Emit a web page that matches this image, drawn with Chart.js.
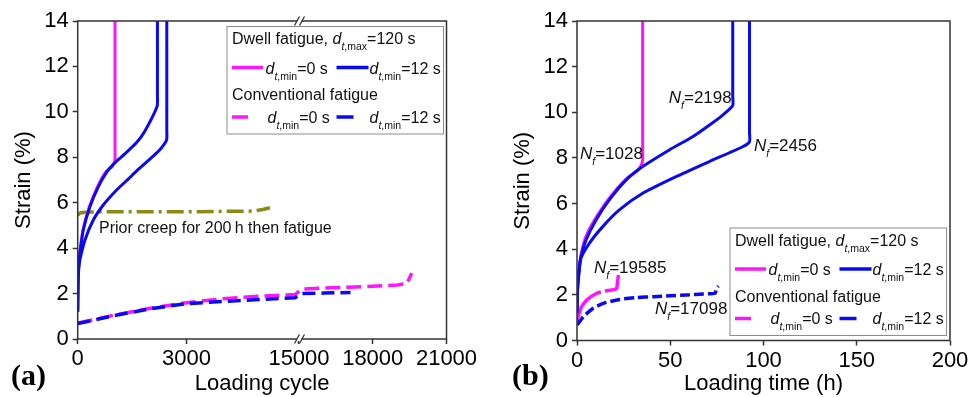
<!DOCTYPE html>
<html><head><meta charset="utf-8">
<script src="https://cdn.jsdelivr.net/npm/chart.js@4/dist/chart.umd.min.js"></script>
<style>
html,body{margin:0;padding:0;background:#fff;}
#wrap{position:relative;width:968px;height:397px;overflow:hidden;background:#fff;}
.c{position:absolute;top:0;height:397px;width:484px;}
#ca{left:0;} #cb{left:484px;}
</style></head><body>
<div id="wrap"><div class="c" id="ca"><canvas id="a"></canvas></div><div class="c" id="cb"><canvas id="b"></canvas></div></div>
<script>
// ---------------- DATA ----------------
// (a) strain vs loading cycle (broken x axis 0-6100 | 15000-21000)
const xTicksA = [0, 3000, 15000, 18000, 21000];
const yTicks = [0, 2, 4, 6, 8, 10, 12, 14];

const aDwell12aCycle = [0, 10, 30, 63, 154, 339, 567, 800, 1050, 1300, 1624, 1850, 2190, 2198, 2198];
const aDwell12aStrain = [1.2, 2.6, 3.3, 3.8, 4.8, 5.83, 6.7, 7.35, 7.8, 8.15, 8.65, 9.15, 10.25, 10.7, 14];
const aDwell12bCycle = [0, 10, 30, 63, 201, 430, 705, 1073, 1400, 1624, 2081, 2300, 2450, 2456, 2456];
const aDwell12bStrain = [1.2, 2.5, 3.1, 3.5, 4.36, 5.24, 5.9, 6.56, 7.05, 7.4, 8.05, 8.4, 8.76, 9.2, 14];
const aDwell0Cycle = [0, 10, 28, 58, 145, 325, 545, 770, 950, 1005, 1028, 1028, 1028];
const aDwell0Strain = [1.2, 2.6, 3.3, 3.8, 4.8, 5.83, 6.7, 7.35, 7.6, 7.75, 7.9, 8.3, 14];
const aConv12Cycle = [0, 300, 1000, 2000, 3000, 4000, 5000, 6000, 15100, 16000, 17098];
const aConv12Strain = [0.68, 0.78, 1.03, 1.33, 1.56, 1.65, 1.74, 1.82, 2.0, 2.02, 2.05];
const aConv0Cycle = [0, 300, 1000, 2000, 3000, 4000, 5000, 6000, 15100, 16000, 17000, 18000, 19000, 19400, 19585];
const aConv0Strain = [0.7, 0.8, 1.05, 1.35, 1.6, 1.77, 1.88, 1.96, 2.2, 2.24, 2.28, 2.32, 2.38, 2.45, 2.9];
const aCreepCycle = [0, 60, 200, 500, 1000, 2000, 3000, 4000, 4800, 5100, 5300];
const aCreepStrain = [5.45, 5.55, 5.58, 5.6, 5.6, 5.6, 5.6, 5.62, 5.63, 5.7, 5.78];

// (b) strain vs loading time (h)
const xTicksB = [0, 50, 100, 150, 200];
const bDwell0Hour = [0, 0.3, 1, 2.1, 4.5, 8.4, 17.3, 26, 32.5, 34.5, 35.2, 35.2, 35.2];
const bDwell0Strain = [1.2, 2.35, 3.05, 3.72, 4.5, 5.15, 6.24, 7.05, 7.45, 7.7, 7.91, 8.3, 14];
const bDwell12aHour = [0, 0.3, 1, 2.1, 4.8, 10.2, 17.3, 26.3, 35.2, 49.5, 62, 72, 78.1, 83.5, 83.5, 83.5];
const bDwell12aStrain = [1.2, 2.3, 3.0, 3.67, 4.4, 5.28, 6.16, 7.03, 7.62, 8.35, 8.93, 9.5, 9.88, 10.3, 10.7, 14];
const bDwell12bHour = [0, 0.3, 1, 2.1, 6.6, 13.8, 22.7, 35.2, 53.1, 70.9, 88.8, 92.5, 92.5, 92.5];
const bDwell12bStrain = [1.2, 2.2, 2.9, 3.6, 4.26, 4.99, 5.72, 6.45, 7.18, 7.84, 8.49, 8.71, 9.1, 14];
const bConv0Hour = [0, 0.5, 1.2, 2.5, 5.2, 10.6, 15.9, 20.4, 21.3, 21.8, 22.2];
const bConv0Strain = [0.85, 1.0, 1.2, 1.48, 1.77, 2.07, 2.18, 2.24, 2.29, 2.6, 2.87];
const bConv12Hour = [0, 3.4, 8.7, 14.1, 23, 32, 40.9, 49.9, 58.8, 67.7, 74, 74.9, 75.8];
const bConv12Strain = [0.68, 1.04, 1.41, 1.63, 1.8, 1.88, 1.92, 1.96, 1.99, 2.04, 2.07, 2.29, 2.39];

// failure-life annotations (anchored in data units: [x, y, life])
const bNfLabels = [[1.6, 8.23, '1028'], [49.2, 10.66, '2198'], [94.9, 8.57, '2456'], [9.1, 3.21, '19585'], [41.8, 1.41, '17098']];
const aCreepLabel = [587, 4.93, 'Prior creep for 200\u2009h then fatigue'];

// ---------------- STYLE / HELPERS ----------------
const FAM = '"Liberation Sans", Arial, Helvetica, sans-serif';
const MAG = '#ff14ff', BLU = '#0a0af2', OLV = '#8a8a14', AX = '#333';
const zip = (xs, ys) => xs.map((x, i) => ({x, y: ys[i]}));

const BRK_LO = 6100, BRK_HI = 15000, BRK_FRAC = 0.6;
class BrokenLinearScale extends Chart.LinearScale {
  buildTicks() { return xTicksA.map(v => ({value: v})); }
  _frac(v) {
    const lo = this.min, hi = this.max;
    if (v <= BRK_LO) return BRK_FRAC * (v - lo) / (BRK_LO - lo);
    if (v < BRK_HI) return BRK_FRAC;
    return BRK_FRAC + (1 - BRK_FRAC) * (v - BRK_HI) / (hi - BRK_HI);
  }
  getPixelForValue(v) { return (v === null || isNaN(v)) ? NaN : this.getPixelForDecimal(this._frac(v)); }
  getValueForPixel(p) {
    const d = this.getDecimalForPixel(p);
    return d <= BRK_FRAC ? this.min + d / BRK_FRAC * (BRK_LO - this.min)
                         : BRK_HI + (d - BRK_FRAC) / (1 - BRK_FRAC) * (this.max - BRK_HI);
  }
}
BrokenLinearScale.id = 'brokenLinear';
BrokenLinearScale.defaults = {};
Chart.register(BrokenLinearScale);

function rich(ctx, x, yMid, parts, size) {
  size = size || 16;
  let cx = x;
  const base = yMid + size * 0.36;
  for (const p of parts) {
    const fs = p.sub ? 10.5 : size;
    ctx.font = (p.it ? 'italic ' : '') + fs + 'px ' + FAM;
    ctx.textAlign = 'left'; ctx.textBaseline = 'alphabetic';
    ctx.fillText(p.t, cx, base + (p.sub ? 6 : 0));
    cx += ctx.measureText(p.t).width;
  }
  return cx;
}
function seg(ctx, x1, x2, y, col, w) {
  ctx.save(); ctx.strokeStyle = col; ctx.lineWidth = w; ctx.setLineDash([]);
  ctx.beginPath(); ctx.moveTo(x1, y); ctx.lineTo(x2, y); ctx.stroke(); ctx.restore();
}
const dmin = s => [{t: 'd', it: 1}, {t: 't', it: 1, sub: 1}, {t: ',min', sub: 1}, {t: s}];

function drawLegend(ctx, L, T) {
  const W = 217.5, H = 108.5;
  ctx.save();
  ctx.fillStyle = '#fff'; ctx.fillRect(L, T, W, H);
  ctx.strokeStyle = '#8c8c8c'; ctx.lineWidth = 1; ctx.strokeRect(L + 0.5, T + 0.5, W - 1, H - 1);
  ctx.fillStyle = '#111';
  rich(ctx, L + 5.5, T + 12.5, [{t: 'Dwell fatigue, '}, {t: 'd', it: 1}, {t: 't', it: 1, sub: 1}, {t: ',max', sub: 1}, {t: '=120 s'}]);
  seg(ctx, L + 5.5, L + 36.5, T + 41.5, MAG, 3.5);
  rich(ctx, L + 39, T + 42, dmin('=0 s'));
  seg(ctx, L + 110, L + 142, T + 41.5, BLU, 3.5);
  rich(ctx, L + 143, T + 42, dmin('=12 s'));
  rich(ctx, L + 5.5, T + 68.5, [{t: 'Conventional fatigue'}]);
  seg(ctx, L + 5.5, L + 21.5, T + 91, MAG, 3.5);
  rich(ctx, L + 41, T + 91, dmin('=0 s'));
  seg(ctx, L + 110, L + 127, T + 91, BLU, 3.5);
  rich(ctx, L + 143, T + 91, dmin('=12 s'));
  ctx.restore();
}
function drawFrame(ctx, ca) {
  ctx.save(); ctx.strokeStyle = AX; ctx.lineWidth = 1.5; ctx.setLineDash([]);
  ctx.strokeRect(ca.left, ca.top, ca.right - ca.left, ca.bottom - ca.top); ctx.restore();
}
function panelLabel(ctx, txt, x, y) {
  ctx.save(); ctx.fillStyle = '#000'; ctx.font = 'bold 30px "Liberation Serif", "Times New Roman", serif';
  ctx.textAlign = 'left'; ctx.textBaseline = 'middle'; ctx.fillText(txt, x, y); ctx.restore();
}

function lineDs(data, color, width, dash, tension) {
  return {data, borderColor: color, backgroundColor: color, borderWidth: width, borderDash: dash || [],
    pointRadius: 0, pointHoverRadius: 0, fill: false, tension: tension || 0, borderCapStyle: 'butt', borderJoinStyle: 'round'};
}
function yScale(width, titlePad) {
  return {
    type: 'linear', min: 0, max: 14,
    afterBuildTicks: s => { s.ticks = yTicks.map(v => ({value: v})); },
    afterFit: s => { s.width = width; s.paddingTop = 0; s.paddingBottom = 0; },
    grid: {display: true, drawOnChartArea: false, drawTicks: true, tickLength: 5, tickWidth: 1.5, tickColor: AX},
    border: {display: false},
    ticks: {font: {family: FAM, size: 22}, color: '#000', padding: 4},
    title: {display: true, text: 'Strain (%)', font: {family: FAM, size: 22}, color: '#000', padding: {top: titlePad, bottom: 0}}
  };
}
function xScaleCommon(height, title) {
  return {
    afterFit: s => { s.height = height; s.paddingLeft = 0; s.paddingRight = 0; },
    grid: {display: true, drawOnChartArea: false, drawTicks: true, tickLength: 5, tickWidth: 1.5, tickColor: AX},
    border: {display: false},
    ticks: {font: {family: FAM, size: 22}, color: '#000', padding: 2, maxRotation: 0, autoSkip: false, callback: v => String(v)},
    title: {display: true, text: title, font: {family: FAM, size: 22}, color: '#000', padding: {top: 0, bottom: 0}}
  };
}
const common = {
  responsive: true, maintainAspectRatio: false, devicePixelRatio: 1, animation: false,
  events: [],
  plugins: {legend: {display: false}, tooltip: {enabled: false}}
};

// ---------------- CHART (a) ----------------
const decorA = {
  id: 'decorA',
  afterDatasetsDraw(chart) {
    const ctx = chart.ctx, ca = chart.chartArea, xs = chart.scales.x, ys = chart.scales.y;
    drawFrame(ctx, ca);
    const bx = xs.getPixelForValue(BRK_HI);
    ctx.save();
    [ca.top, ca.bottom].forEach(yy => {
      ctx.fillStyle = '#fff'; ctx.fillRect(bx - 2, yy - 2, 4.5, 4);
      ctx.strokeStyle = AX; ctx.lineWidth = 1.3;
      ctx.beginPath();
      ctx.moveTo(bx - 4.5, yy + 4.5); ctx.lineTo(bx + 0.5, yy - 4.5);
      ctx.moveTo(bx + 0.5, yy + 4.5); ctx.lineTo(bx + 5.5, yy - 4.5);
      ctx.stroke();
    });
    ctx.restore();
    ctx.save(); ctx.fillStyle = '#111';
    rich(ctx, xs.getPixelForValue(aCreepLabel[0]), ys.getPixelForValue(aCreepLabel[1]), [{t: aCreepLabel[2]}], 16);
    ctx.restore();
    drawLegend(ctx, ca.right - 220, ca.top + 5);
    panelLabel(ctx, '(a)', 11, 377);
  }
};
new Chart(document.getElementById('a'), {
  type: 'line',
  data: {datasets: [
    lineDs(zip(aDwell12aCycle, aDwell12aStrain), BLU, 3, null, 0.2),
    lineDs(zip(aDwell12bCycle, aDwell12bStrain), BLU, 3, null, 0.2),
    lineDs(zip(aDwell0Cycle, aDwell0Strain), MAG, 3, null, 0.2),
    lineDs(zip(aConv12Cycle, aConv12Strain), BLU, 3.5, [13, 6]),
    lineDs(zip(aConv0Cycle, aConv0Strain), MAG, 3.5, [15, 6]),
    lineDs(zip(aCreepCycle, aCreepStrain), OLV, 3.5, [17, 5, 3, 5])
  ]},
  options: Object.assign({}, common, {
    layout: {padding: {left: 0, right: 37.5, top: 21, bottom: 0}},
    scales: {
      x: Object.assign({type: 'brokenLinear', min: 0, max: 21000}, xScaleCommon(58, 'Loading cycle')),
      y: yScale(77.7, 11)
    }
  }),
  plugins: [decorA]
});

// ---------------- CHART (b) ----------------
const decorB = {
  id: 'decorB',
  afterDatasetsDraw(chart) {
    const ctx = chart.ctx, ca = chart.chartArea, xs = chart.scales.x, ys = chart.scales.y;
    drawFrame(ctx, ca);
    ctx.save(); ctx.fillStyle = '#111';
    bNfLabels.forEach(([x, y, n]) => {
      rich(ctx, xs.getPixelForValue(x), ys.getPixelForValue(y), [{t: 'N', it: 1}, {t: 'f', it: 1, sub: 1}, {t: '=' + n}], 17);
    });
    ctx.restore();
    drawLegend(ctx, ca.right - 220.5, ca.bottom - 113);
    panelLabel(ctx, '(b)', 28, 377);
  }
};
new Chart(document.getElementById('b'), {
  type: 'line',
  data: {datasets: [
    lineDs(zip(bDwell12aHour, bDwell12aStrain), BLU, 3, null, 0.2),
    lineDs(zip(bDwell12bHour, bDwell12bStrain), BLU, 3, null, 0.2),
    lineDs(zip(bDwell0Hour, bDwell0Strain), MAG, 3, null, 0.2),
    lineDs(zip(bConv12Hour, bConv12Strain), BLU, 3.5, [10, 4], 0.2),
    lineDs(zip(bConv0Hour, bConv0Strain), MAG, 3.5, [40, 4], 0.2)
  ]},
  options: Object.assign({}, common, {
    layout: {padding: {left: 0, right: 18, top: 21, bottom: 0}},
    scales: {
      x: Object.assign({type: 'linear', min: 0, max: 200,
        afterBuildTicks: s => { s.ticks = xTicksB.map(v => ({value: v})); }}, xScaleCommon(56.5, 'Loading time (h)')),
      y: yScale(93, 26)
    }
  }),
  plugins: [decorB]
});
</script>
</body></html>
